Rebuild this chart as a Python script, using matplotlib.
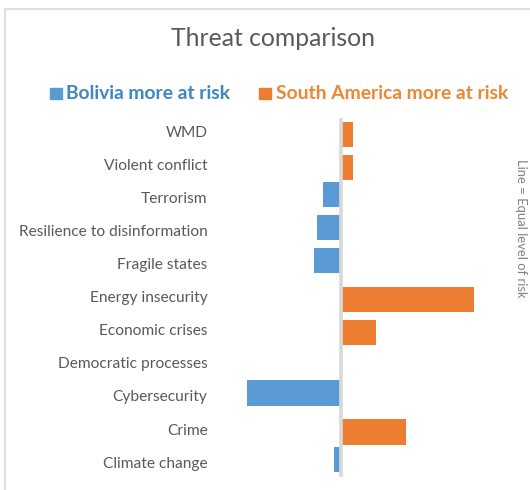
import matplotlib.pyplot as plt
from matplotlib.lines import Line2D
from matplotlib.patches import Rectangle

# Datos
categorias = ["WMD", "Violent conflict", "Terrorism", "Resilience to disinformation",
              "Fragile states", "Energy insecurity", "Economic crises",
              "Democratic processes", "Cybersecurity", "Crime", "Climate change"]
# negativo = Bolivia más en riesgo, positivo = Sudamérica más en riesgo
bolivia = [0, 0, -1.35, -1.8, -2.0, 0, 0, -0.1, -7.1, 0, -0.5]
sudamerica = [0.9, 0.9, 0, 0, 0, 10.0, 2.6, 0, 0, 4.9, 0]

azul = "#5B9BD5"
naranja = "#ED7D31"

plt.rcParams['font.family'] = ['Lato', 'DejaVu Sans']

fig = plt.figure(figsize=(5.3, 4.9), dpi=100)
W, H = 530, 490

# borde del gráfico (solo izquierda y arriba visibles)
fig.lines.append(Line2D([4.5 / W, 4.5 / W, 1], [0, 1 - 9.5 / H, 1 - 9.5 / H],
                        transform=fig.transFigure, color="#D9D9D9", linewidth=1.2))

ax = fig.add_axes([220 / W, 1 - 477 / H, 260 / W, 359 / H])

y = list(range(len(categorias)))
ax.barh([v - 0.09 for v in y], bolivia, height=0.76, color=azul)
ax.barh([v + 0.09 for v in y], sudamerica, height=0.76, color=naranja)
ax.axvline(0, color="#D9D9D9", linewidth=2.6, zorder=3)

ax.set_xlim(-9.1, 10.45)
ax.set_ylim(10.45, -0.4)
ax.set_yticks(y)
ax.set_yticklabels(categorias, fontsize=11.2, color="#595959")
ax.tick_params(axis='y', length=0, pad=9)
ax.set_xticks([])
for s in ax.spines.values():
    s.set_visible(False)

fig.text(273 / W, 1 - 38 / H, "Threat comparison", ha='center', va='center',
         fontsize=17.8, color="#595959")

# leyenda
fig.patches.append(Rectangle((50 / W, 1 - 99 / H), 12 / W, 11 / H,
                             transform=fig.transFigure, color=azul))
fig.text(66 / W, 1 - 93 / H, "Bolivia more at risk", ha='left', va='center',
         fontsize=13.9, fontweight='bold', color="#3C87C7")
fig.patches.append(Rectangle((259 / W, 1 - 99 / H), 12 / W, 11 / H,
                             transform=fig.transFigure, color=naranja))
fig.text(276 / W, 1 - 93 / H, "South America more at risk", ha='left', va='center',
         fontsize=13.9, fontweight='bold', color="#EE8732")

fig.text(521 / W, 1 - 228 / H, "Line = Equal level of risk", ha='center', va='center',
         rotation=-90, fontsize=9.4, color="#808080")

fig.savefig("out.png", dpi=100)
